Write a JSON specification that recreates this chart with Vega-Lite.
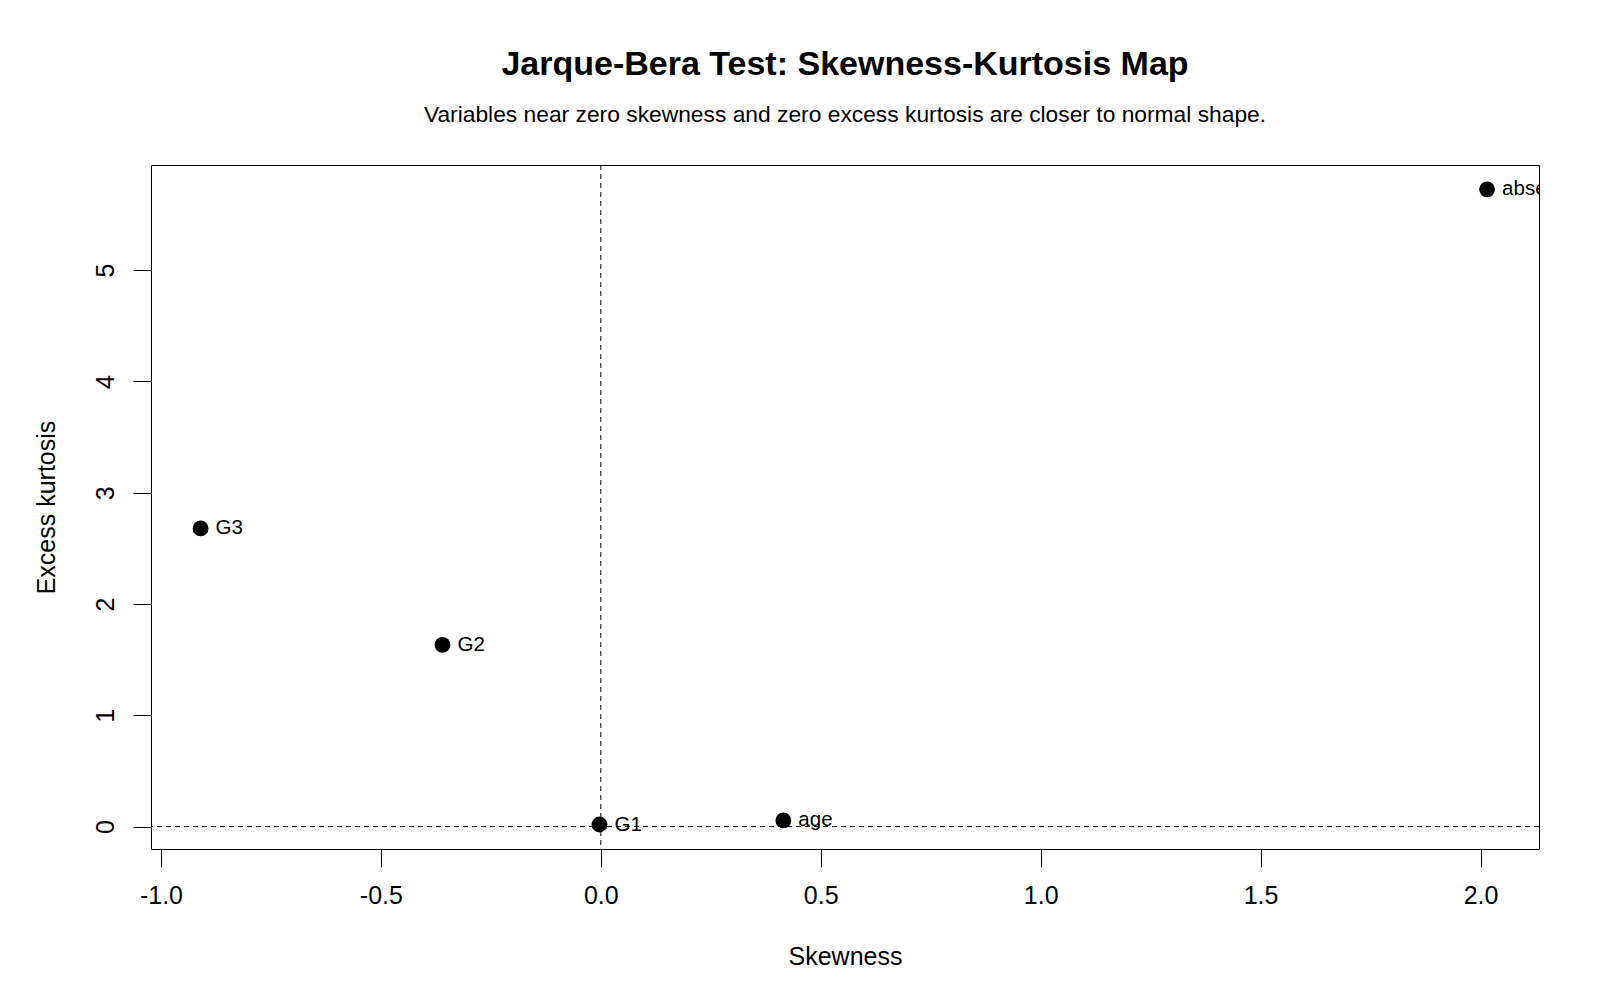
{
  "$schema": "https://vega.github.io/schema/vega-lite/v6.json",
  "width": 1388,
  "height": 684,
  "autosize": "none",
  "padding": {"left": 151, "top": 165, "right": 61, "bottom": 151},
  "background": "white",
  "title": {
    "text": "Jarque-Bera Test: Skewness-Kurtosis Map",
    "subtitle": "Variables near zero skewness and zero excess kurtosis are closer to normal shape.",
    "anchor": "middle",
    "frame": "group",
    "font": "Liberation Sans",
    "fontSize": 34,
    "fontWeight": "bold",
    "color": "black",
    "subtitleFont": "Liberation Sans",
    "subtitleFontSize": 22.8,
    "subtitleColor": "black",
    "subtitlePadding": 22,
    "offset": 38
  },
  "config": {
    "view": {"stroke": "black", "strokeWidth": 1},
    "axis": {
      "domain": false,
      "grid": false,
      "labelFont": "Liberation Sans",
      "labelFontSize": 25,
      "labelColor": "black",
      "tickColor": "black",
      "tickSize": 18,
      "tickWidth": 1,
      "titleFont": "Liberation Sans",
      "titleFontSize": 25,
      "titleFontWeight": "normal",
      "titleColor": "black"
    }
  },
  "data": {
    "values": [
      {"variable": "absences", "skewness": 2.015, "kurtosis": 5.726},
      {"variable": "G3", "skewness": -0.91, "kurtosis": 2.679},
      {"variable": "G2", "skewness": -0.36, "kurtosis": 1.633},
      {"variable": "G1", "skewness": -0.003, "kurtosis": 0.018},
      {"variable": "age", "skewness": 0.415, "kurtosis": 0.055}
    ]
  },
  "layer": [
    {
      "data": {"values": [{"ref": 0}]},
      "mark": {"type": "rule", "color": "black", "strokeWidth": 1, "strokeDash": [5, 4]},
      "encoding": {"x": {"field": "ref", "type": "quantitative", "scale": {"domain": [-1.0227, 2.133], "nice": false, "zero": false}}}
    },
    {
      "data": {"values": [{"ref": 0}]},
      "mark": {"type": "rule", "color": "black", "strokeWidth": 1, "strokeDash": [5, 4]},
      "encoding": {"y": {"field": "ref", "type": "quantitative", "scale": {"domain": [-0.202, 5.945], "nice": false, "zero": false}}}
    },
    {
      "mark": {"type": "point", "filled": true, "color": "black", "opacity": 1, "size": 250},
      "encoding": {
        "x": {
          "field": "skewness", "type": "quantitative",
          "scale": {"domain": [-1.0227, 2.133], "nice": false, "zero": false},
          "axis": {"title": "Skewness", "values": [-1, -0.5, 0, 0.5, 1, 1.5, 2], "format": ".1f", "labelExpr": "replace(datum.label, '\u2212', '-')", "labelPadding": 16, "titlePadding": 36}
        },
        "y": {
          "field": "kurtosis", "type": "quantitative",
          "scale": {"domain": [-0.202, 5.945], "nice": false, "zero": false},
          "axis": {"title": "Excess kurtosis", "values": [0, 1, 2, 3, 4, 5], "format": "d", "labelAngle": 270, "labelAlign": "center", "labelBaseline": "middle", "labelPadding": 28, "titlePadding": 34}
        }
      }
    },
    {
      "mark": {"type": "text", "align": "left", "baseline": "middle", "dx": 15, "font": "Liberation Sans", "fontSize": 20.5, "color": "black", "clip": true},
      "encoding": {
        "x": {"field": "skewness", "type": "quantitative"},
        "y": {"field": "kurtosis", "type": "quantitative"},
        "text": {"field": "variable"}
      }
    }
  ]
}
